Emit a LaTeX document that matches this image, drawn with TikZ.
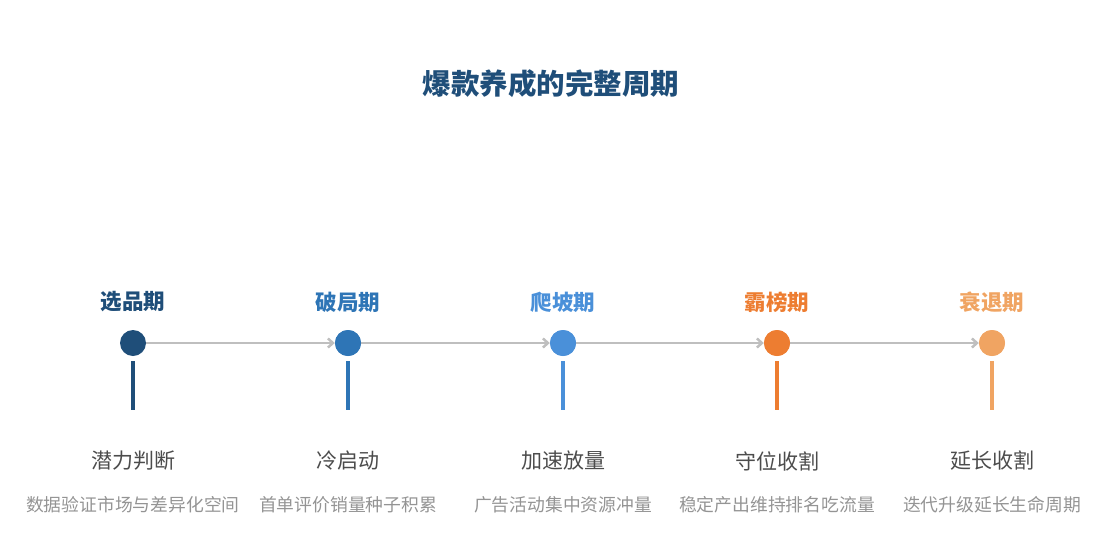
\documentclass[tikz,border=0pt]{standalone}
\usepackage{fontspec}
\setmainfont{Noto Sans CJK SC}
\usetikzlibrary{arrows.meta}
\definecolor{c1}{HTML}{1F4E79}
\definecolor{c2}{HTML}{2E75B6}
\definecolor{c3}{HTML}{4A90D9}
\definecolor{c4}{HTML}{ED7D31}
\definecolor{c5}{HTML}{F0A462}
\definecolor{ln}{HTML}{BFBFBF}
\begin{document}
\begin{tikzpicture}[x=1pt,y=-1pt,
  dot/.style={circle,fill=#1,minimum size=26pt,inner sep=0},
  stage/.style={font=\bfseries\fontsize{21.5pt}{24pt}\selectfont,text=#1},
  main/.style={font=\fontsize{21pt}{24pt}\selectfont,text=black!70},
  sub/.style={font=\fontsize{17.8pt}{20pt}\selectfont,text=black!42},
  bar/.style={line width=3.5pt,#1},
  conn/.style={ln,line width=2.5pt,-{Straight Barb[length=5pt,width=9pt]}}]
\useasboundingbox (0,0) rectangle (1103,555);
\node[font=\bfseries\fontsize{28.5pt}{32pt}\selectfont,text=c1] (title) at (551,84) {爆款养成的完整周期};
\foreach \i/\x/\c/\s/\m/\t in {1/133/c1/选品期/潜力判断/数据验证市场与差异化空间,
  2/348/c2/破局期/冷启动/首单评价销量种子积累,
  3/563/c3/爬坡期/加速放量/广告活动集中资源冲量,
  4/777/c4/霸榜期/守位收割/稳定产出维持排名吃流量,
  5/992/c5/衰退期/延长收割/迭代升级延长生命周期}{
  \node[stage=\c] (s\i) at (\x,302) {\s};
  \node[dot=\c] (d\i) at (\x,343) {};
  \coordinate (b\i) at (\x,361);
  \coordinate (e\i) at (\x,410);
  \draw[bar=\c] (b\i) -- (e\i);
  \node[main] (m\i) at (\x,461) {\m};
  \node[sub] (t\i) at (\x,505) {\t};
}
\foreach \a/\b in {1/2,2/3,3/4,4/5}{
  \draw[conn] (d\a.east) -- (d\b.west);
}
\foreach \i/\c in {2/c2,3/c3,4/c4,5/c5}{\node[dot=\c] at (d\i) {};}
\end{tikzpicture}
\end{document}
